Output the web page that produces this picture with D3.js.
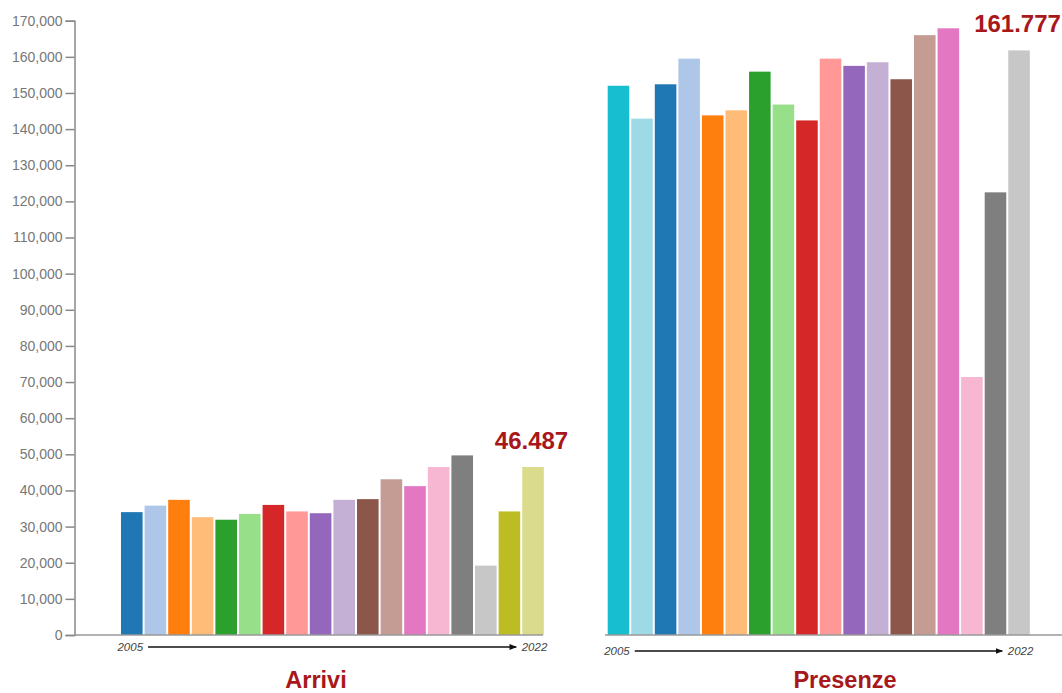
<!DOCTYPE html>
<html><head><meta charset="utf-8">
<script src="https://cdn.jsdelivr.net/npm/d3@7"></script>
<style>
body{margin:0;background:#fff;}
svg{display:block;font-family:"Liberation Sans",Arial,sans-serif;}
</style></head>
<body><svg id="chart" width="1062" height="693"></svg>
<script>
const years = d3.range(2005, 2023).map(String);
const arrivi = [34000, 35800, 37400, 32600, 31900, 33500, 36000, 34200, 33700, 37400, 37600, 43100, 41200, 46500, 49700, 19200, 34200, 46487];
const presenze = [152000, 142900, 152400, 159500, 143800, 145200, 155900, 146800, 142400, 159500, 157500, 158500, 153800, 166000, 167900, 71400, 122500, 161777];
const yTicks = d3.range(0, 170001, 10000);
const palette = ["#1f77b4","#aec7e8","#ff7f0e","#ffbb78","#2ca02c","#98df8a","#d62728","#ff9896","#9467bd","#c5b0d5","#8c564b","#c49c94","#e377c2","#f7b6d2","#7f7f7f","#c7c7c7","#bcbd22","#dbdb8d","#17becf","#9edae5"];
const titles = ["Arrivi", "Presenze"];
const highlights = ["46.487", "161.777"];

const svg = d3.select("#chart");
const red = "#a8171a";
const y = d3.scaleLinear().domain([0, 170000]).range([635, 20.7]);

// y axis
const yAxis = svg.append("g").attr("transform", "translate(74.5,0)")
  .call(d3.axisLeft(y).tickValues(yTicks).tickSize(9).tickPadding(3).tickFormat(d3.format(",")));
yAxis.select(".domain").attr("stroke", "#888").attr("stroke-width", 1.5);
yAxis.selectAll(".tick line").attr("stroke", "#888").attr("stroke-width", 1.5);
yAxis.selectAll(".tick text").attr("fill", "#777").style("font-size", "14px").style("font-family", "'Liberation Sans',Arial,sans-serif");

// marker
svg.append("defs").append("marker").attr("id", "arr").attr("viewBox", "0 0 10 10")
  .attr("refX", 9).attr("refY", 5).attr("markerWidth", 5).attr("markerHeight", 5).attr("orient", "auto")
  .append("path").attr("d", "M0,1L10,5L0,9Z").attr("fill", "#111");

const panels = [
  {vals: arrivi, range: [119.8, 545], colorOffset: 0, base: [74.5, 543], arrowY: 647},
  {vals: presenze, range: [606.5, 1031], colorOffset: 18, base: [605, 1062], arrowY: 651}
];

panels.forEach((p, pi) => {
  const x = d3.scaleBand().domain(years).range(p.range).paddingInner(0.085).paddingOuter(0.05);
  const g = svg.append("g");
  g.selectAll("rect").data(p.vals).enter().append("rect")
    .attr("x", (d, i) => x(years[i]))
    .attr("width", x.bandwidth())
    .attr("y", d => y(d))
    .attr("height", d => y(0) - y(d))
    .attr("fill", (d, i) => palette[(i + p.colorOffset) % 20]);
  g.append("line").attr("x1", p.base[0]).attr("x2", p.base[1]).attr("y1", y(0)).attr("y2", y(0))
    .attr("stroke", "#999").attr("stroke-width", 1.5);

  const first = years[0], last = years[years.length - 1];
  const x0 = x(first) + x.bandwidth(), x1 = x(last);
  g.append("text").attr("x", x0 + 0.5).attr("y", p.arrowY + 4).attr("text-anchor", "end")
    .attr("fill", "#444").style("font-size", "11.5px").style("font-style", "italic").text(first);
  g.append("line").attr("x1", x0 + 5.5).attr("x2", x1 - 6).attr("y1", p.arrowY).attr("y2", p.arrowY)
    .attr("stroke", "#111").attr("stroke-width", 1.5).attr("marker-end", "url(#arr)");
  g.append("text").attr("x", x1 - 0.5).attr("y", p.arrowY + 4).attr("text-anchor", "start")
    .attr("fill", "#444").style("font-size", "11.5px").style("font-style", "italic").text(last);

  // value label
  const lv = p.vals[p.vals.length - 1];
  g.append("text").attr("x", x(last) + x.bandwidth() / 2 - 1.5).attr("y", y(lv) - 18.5)
    .attr("text-anchor", "middle").attr("fill", red).style("font-size", "24px").style("font-weight", "bold")
    .text(highlights[pi]);

  // title
  g.append("text").attr("x", pi === 0 ? 316 : 845).attr("y", 688)
    .attr("text-anchor", "middle").attr("fill", red).style("font-size", "23.5px").style("font-weight", "bold")
    .text(titles[pi]);
});
</script></body></html>
